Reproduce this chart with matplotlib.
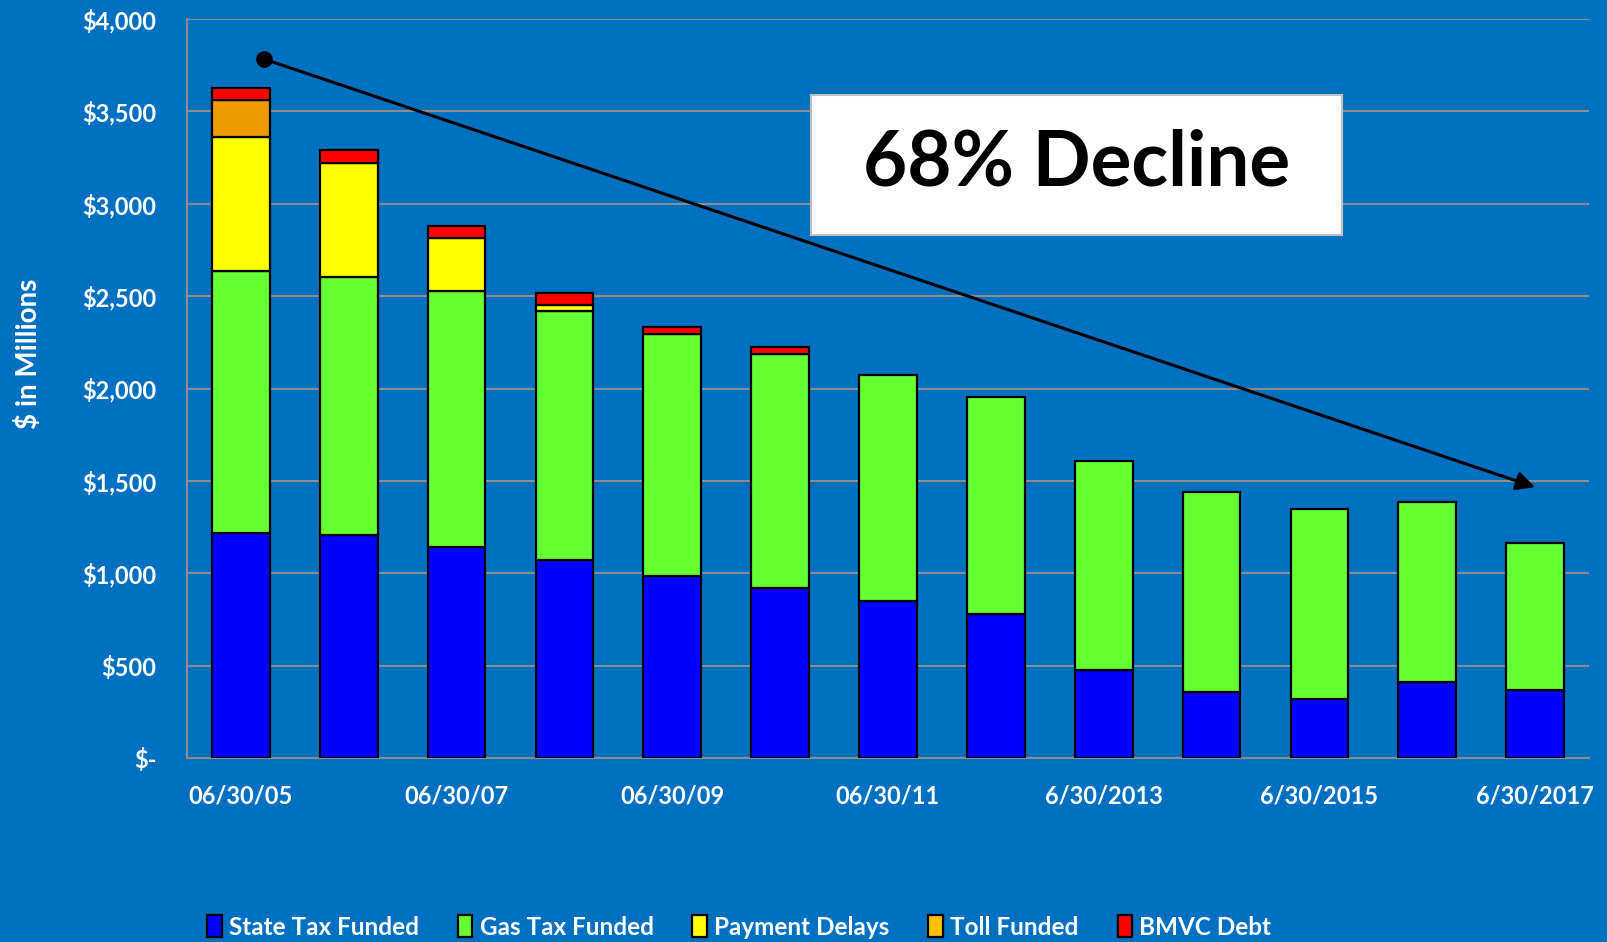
import numpy as np
import matplotlib
matplotlib.use("Agg")
import matplotlib.pyplot as plt

# values, $ millions
dates = ["06/30/05", "06/30/06", "06/30/07", "06/30/08", "06/30/09", "06/30/10",
         "06/30/11", "06/30/12", "6/30/2013", "6/30/2014", "6/30/2015",
         "6/30/2016", "6/30/2017"]
state_tax = [1216, 1206, 1143, 1071, 985, 918, 851, 781, 474, 359, 318, 413, 370]
gas_tax = [1420, 1396, 1383, 1347, 1309, 1268, 1221, 1174, 1133, 1080, 1029, 972, 792]
payment_delays = [728, 621, 288, 33, 0, 0, 0, 0, 0, 0, 0, 0, 0]
toll_funded = [198, 0, 0, 0, 0, 0, 0, 0, 0, 0, 0, 0, 0]
bmvc_debt = [63, 66, 67, 64, 40, 39, 0, 0, 0, 0, 0, 0, 0]

series = [("State Tax Funded", state_tax, "#0000FF"),
          ("Gas Tax Funded", gas_tax, "#66FF33"),
          ("Payment Delays", payment_delays, "#FFFF00"),
          ("Toll Funded", toll_funded, "#EE9A00"),
          ("BMVC Debt", bmvc_debt, "#FF0000")]

plt.rcParams['font.family'] = ['Lato', 'DejaVu Sans']
plt.rcParams['font.weight'] = 'bold'

bg = "#0070C0"
fig = plt.figure(figsize=(16.07, 9.42), dpi=100, facecolor=bg)
ax = fig.add_axes([187/1607, 1-758/942, (1589-187)/1607, (758-19)/942])
ax.set_facecolor(bg)

x = np.arange(len(dates))
bottom = np.zeros(len(dates))
handles = []
for name, vals, col in series:
    vals = np.array(vals, dtype=float)
    mask = vals > 0
    b = ax.bar(x[mask], vals[mask], 0.535, bottom=bottom[mask], color=col,
               edgecolor="black", linewidth=1.6, label=name, zorder=3)
    handles.append(b)
    bottom += vals

ax.set_xlim(-0.5, len(dates) - 0.5)
ax.set_ylim(0, 4000)
ax.set_yticks(np.arange(0, 4001, 500))
ax.set_yticklabels(["$-"] + ["${:,}".format(v) for v in range(500, 4001, 500)])
ax.set_xticks(x[::2])
ax.set_xticklabels(dates[::2])
ax.tick_params(axis="both", length=0, colors="white", labelsize=17)
ax.tick_params(axis="y", pad=22)
ax.tick_params(axis="x", pad=19)
for lab in ax.get_xticklabels() + ax.get_yticklabels():
    lab.set_fontweight("bold")

ax.grid(axis="y", color="#8C8C8C", linewidth=1.5, zorder=0)
for s in ["top", "right"]:
    ax.spines[s].set_visible(False)
ax.spines["left"].set_color("#8C8C8C")
ax.spines["bottom"].set_color("#8C8C8C")
ax.spines["left"].set_linewidth(1.5)
ax.spines["bottom"].set_linewidth(1.5)

fig.text(29/1607, 1-354/942, "$ in Millions", rotation=90, color="white",
         fontsize=20, fontweight="bold", ha="center", va="center")

# trend arrow
ax.annotate("", xy=(12.0, 1466), xytext=(0.21, 3784),
            arrowprops=dict(arrowstyle="-|>", color="black", lw=2.2,
                            mutation_scale=28, shrinkA=0, shrinkB=0), zorder=5)
ax.plot([0.21], [3784], "o", color="black", markersize=11, zorder=6)

# callout box
fig.patches.append(plt.Rectangle((811/1607, 1-235/942), (1342-811)/1607, (235-95)/942,
                                 transform=fig.transFigure, facecolor="white",
                                 edgecolor="#BFBFBF", linewidth=1.5, zorder=10))
fig.text((811+1342)/2/1607, 1-163/942, "68% Decline", fontsize=55, fontweight="bold",
         color="black", ha="center", va="center", zorder=11)

leg = fig.legend(handles=handles, loc="center", bbox_to_anchor=(0.46, 1-927/942),
                 ncol=5, frameon=False, fontsize=17.5, handlelength=0.6,
                 handleheight=1.0, handletextpad=0.3, columnspacing=1.6)
for t in leg.get_texts():
    t.set_color("white")
    t.set_fontweight("bold")
leg.legend_handles[3].set_facecolor("#FFC000")

fig.savefig("out.png", dpi=100, facecolor=bg)
